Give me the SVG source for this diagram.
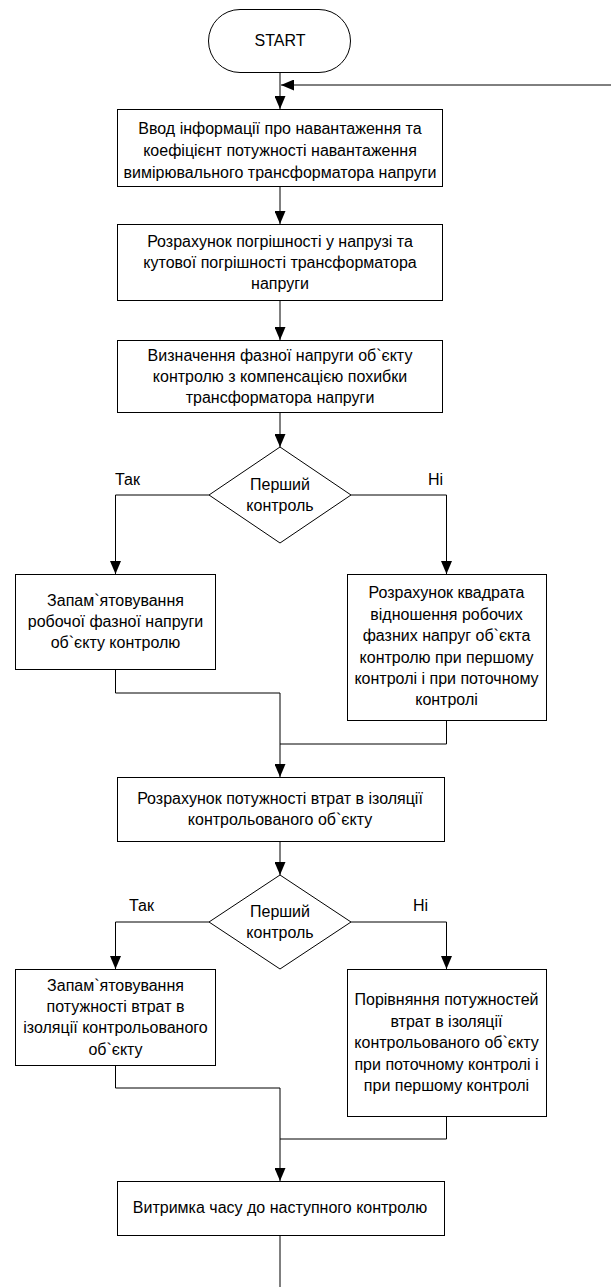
<svg xmlns="http://www.w3.org/2000/svg" width="611" height="1287" viewBox="0 0 611 1287">
<style>
.n{fill:#fff;stroke:#000;stroke-width:1}
.t{font-family:"Liberation Sans",Arial,sans-serif;font-size:16px;fill:#000;text-anchor:middle}
.l{font-family:"Liberation Sans",Arial,sans-serif;font-size:16px;fill:#000}
.c{fill:none;stroke:#000;stroke-width:1}
</style>
<defs>
<marker id="ah" markerUnits="userSpaceOnUse" markerWidth="14" markerHeight="11" refX="13" refY="5.5" orient="auto">
<path d="M0,0 L13,5.5 L0,11 z" fill="#000"/>
</marker>
</defs>
<rect width="611" height="1287" fill="#fff"/>
<g id="connectors">
<path class="c" d="M280,72 V109" marker-end="url(#ah)"/>
<path class="c" d="M611,85 H281" marker-end="url(#ah)"/>
<path class="c" d="M280,186 V224" marker-end="url(#ah)"/>
<path class="c" d="M280,300 V340" marker-end="url(#ah)"/>
<path class="c" d="M280,412 V447" marker-end="url(#ah)"/>
<path class="c" d="M209,495 H115.5 V574" marker-end="url(#ah)"/>
<path class="c" d="M351,495 H446.5 V574" marker-end="url(#ah)"/>
<path class="c" d="M115.5,669 V693 H280"/>
<path class="c" d="M446.5,720 V744 H280"/>
<path class="c" d="M280,693 V777" marker-end="url(#ah)"/>
<path class="c" d="M280,841 V875" marker-end="url(#ah)"/>
<path class="c" d="M209,922 H115.5 V969" marker-end="url(#ah)"/>
<path class="c" d="M351,922 H446.5 V969" marker-end="url(#ah)"/>
<path class="c" d="M115.5,1065 V1088 H280"/>
<path class="c" d="M446.5,1116 V1139 H280"/>
<path class="c" d="M280,1088 V1181" marker-end="url(#ah)"/>
<path class="c" d="M280,1235 V1287"/>
<text class="l" x="115" y="485">Так</text>
<text class="l" x="428" y="485">Ні</text>
<text class="l" x="129" y="911">Так</text>
<text class="l" x="413" y="911">Ні</text>
</g>
<g id="start">
<rect class="n" x="208.5" y="9.5" width="142" height="63" rx="31.5"/>
<text class="t" x="280" y="46">START</text>
</g>
<g id="box1">
<rect class="n" x="117.5" y="109.5" width="325" height="77"/>
<text class="t" x="280" y="134">Ввод інформації про навантаження та</text>
<text class="t" x="280" y="156">коефіцієнт потужності навантаження</text>
<text class="t" x="280" y="178">вимірювального трансформатора напруги</text>
</g>
<g id="box2">
<rect class="n" x="117.5" y="224.5" width="325" height="76"/>
<text class="t" x="280" y="247">Розрахунок погрішності у напрузі та</text>
<text class="t" x="280" y="268">кутової погрішності трансформатора</text>
<text class="t" x="280" y="289">напруги</text>
</g>
<g id="box3">
<rect class="n" x="117.5" y="340.5" width="325" height="72"/>
<text class="t" x="280" y="361">Визначення фазної напруги об`єкту</text>
<text class="t" x="280" y="382">контролю з компенсацією похибки</text>
<text class="t" x="280" y="403">трансформатора напруги</text>
</g>
<g id="decision1">
<polygon class="n" points="280,447 351,495 280,543 209,495"/>
<text class="t" x="280" y="490">Перший</text>
<text class="t" x="280" y="511">контроль</text>
</g>
<g id="box4">
<rect class="n" x="15.5" y="574.5" width="200" height="95"/>
<text class="t" x="115.5" y="606">Запам`ятовування</text>
<text class="t" x="115.5" y="627">робочої фазної напруги</text>
<text class="t" x="115.5" y="648">об`єкту контролю</text>
</g>
<g id="box5">
<rect class="n" x="347.5" y="574.5" width="199" height="146"/>
<text class="t" x="446.5" y="598">Розрахунок квадрата</text>
<text class="t" x="446.5" y="619.5">відношення робочих</text>
<text class="t" x="446.5" y="641">фазних напруг об`єкта</text>
<text class="t" x="446.5" y="662.5">контролю при першому</text>
<text class="t" x="446.5" y="684">контролі і при поточному</text>
<text class="t" x="446.5" y="705">контролі</text>
</g>
<g id="box6">
<rect class="n" x="117.5" y="777.5" width="327" height="64"/>
<text class="t" x="280" y="804">Розрахунок потужності втрат в ізоляції</text>
<text class="t" x="280" y="825">контрольованого об`єкту</text>
</g>
<g id="decision2">
<polygon class="n" points="280,875 351,922 280,969 209,922"/>
<text class="t" x="280" y="917">Перший</text>
<text class="t" x="280" y="938">контроль</text>
</g>
<g id="box7">
<rect class="n" x="15.5" y="969.5" width="200" height="96"/>
<text class="t" x="115.5" y="990.5">Запам`ятовування</text>
<text class="t" x="115.5" y="1012">потужності втрат в</text>
<text class="t" x="115.5" y="1033">ізоляції контрольованого</text>
<text class="t" x="115.5" y="1055">об`єкту</text>
</g>
<g id="box8">
<rect class="n" x="347.5" y="969.5" width="199" height="147"/>
<text class="t" x="446.5" y="1005">Порівняння потужностей</text>
<text class="t" x="446.5" y="1027">втрат в ізоляції</text>
<text class="t" x="446.5" y="1048">контрольованого об`єкту</text>
<text class="t" x="446.5" y="1069.5">при поточному контролі і</text>
<text class="t" x="446.5" y="1090.5">при першому контролі</text>
</g>
<g id="box9">
<rect class="n" x="117.5" y="1181.5" width="327" height="54"/>
<text class="t" x="280" y="1213">Витримка часу до наступного контролю</text>
</g>
</svg>
